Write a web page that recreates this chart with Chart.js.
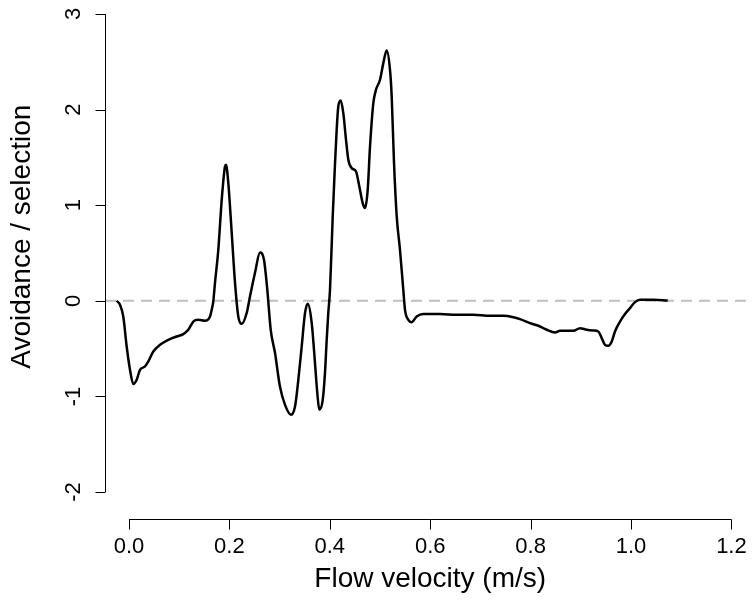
<!DOCTYPE html>
<html>
<head>
<meta charset="utf-8">
<script src="https://cdn.jsdelivr.net/npm/chart.js@4/dist/chart.umd.min.js"></script>
<style>
  html, body { margin: 0; padding: 0; background: #fff; }
  #wrap { width: 752px; height: 601px; position: relative; }
</style>
</head>
<body>
<div id="wrap"><canvas id="c"></canvas></div>
<script>
// ---- data ----
const velocity = [-0.0245,-0.0179,-0.0114,-0.0046,0.002,0.0086,0.0153,0.0219,0.0319,0.0384,0.0484,0.0618,0.0783,0.095,0.1082,0.1181,0.1281,0.138,0.1514,0.1614,0.1647,0.1679,0.1713,0.1779,0.1847,0.1912,0.1932,0.1978,0.2046,0.2112,0.2177,0.2245,0.2345,0.241,0.251,0.261,0.2689,0.2755,0.2823,0.2908,0.3008,0.3108,0.3227,0.3307,0.3373,0.344,0.3506,0.356,0.364,0.3705,0.3751,0.3791,0.3859,0.3904,0.3938,0.397,0.4004,0.4058,0.4104,0.4137,0.4169,0.4217,0.4269,0.4323,0.4369,0.4436,0.4522,0.4588,0.4655,0.4701,0.4755,0.4801,0.4867,0.492,0.5,0.5066,0.5133,0.5199,0.5233,0.5279,0.5333,0.5398,0.5464,0.5498,0.5564,0.5631,0.5731,0.5863,0.6195,0.6528,0.6859,0.7191,0.7456,0.7655,0.7789,0.7988,0.8187,0.8321,0.8486,0.8586,0.8719,0.8851,0.8984,0.9118,0.9249,0.9349,0.9416,0.9482,0.9548,0.9616,0.9681,0.9781,0.988,0.998,1.008,1.018,1.0444,1.0731];
const selection = [0,-0.042,-0.164,-0.478,-0.722,-0.871,-0.826,-0.722,-0.687,-0.635,-0.53,-0.46,-0.408,-0.373,-0.348,-0.303,-0.217,-0.199,-0.209,-0.164,-0.094,-0.007,0.188,0.533,1.056,1.405,1.423,1.234,0.711,0.188,-0.164,-0.241,-0.126,0.045,0.293,0.505,0.429,0.115,-0.303,-0.544,-0.9,-1.088,-1.192,-1.106,-0.826,-0.478,-0.129,-0.031,-0.233,-0.652,-0.965,-1.14,-1.036,-0.753,-0.408,-0.126,0.115,0.882,1.44,1.789,2.032,2.095,1.963,1.684,1.475,1.388,1.353,1.196,1.022,0.97,1.161,1.614,2.068,2.207,2.312,2.486,2.618,2.416,2.137,1.444,0.882,0.533,0.115,-0.094,-0.199,-0.223,-0.164,-0.139,-0.139,-0.146,-0.146,-0.157,-0.157,-0.171,-0.191,-0.233,-0.269,-0.303,-0.332,-0.314,-0.314,-0.314,-0.286,-0.303,-0.311,-0.321,-0.39,-0.46,-0.471,-0.426,-0.321,-0.217,-0.139,-0.076,-0.014,0.01,0.01,0.003];
const xTicks = [0, 0.2, 0.4, 0.6, 0.8, 1.0, 1.2];
const xTickLabels = ["0.0", "0.2", "0.4", "0.6", "0.8", "1.0", "1.2"];
const yTicks = [-2, -1, 0, 1, 2, 3];
const yTickLabels = ["-2", "-1", "0", "1", "2", "3"];
const referenceLevel = 0;
const xTitle = "Flow velocity (m/s)";
const yTitle = "Avoidance / selection";

// axis ranges (plot region)
const X_MIN = -0.0478, X_MAX = 1.241;
const Y_MIN = -2.282, Y_MAX = 3.146;

const FONT = '"Liberation Sans", Arial, Helvetica, sans-serif';

const curve = velocity.map((v, i) => ({ x: v, y: selection[i] }));
const zeroLine = [{ x: X_MIN, y: referenceLevel }, { x: X_MAX, y: referenceLevel }];

const rAxes = {
  id: 'rAxes',
  afterDraw(chart) {
    const ctx = chart.ctx;
    const xs = chart.scales.x, ys = chart.scales.y;
    const area = chart.chartArea;
    ctx.save();
    ctx.strokeStyle = '#000';
    ctx.lineWidth = 1;
    ctx.fillStyle = '#000';

    // y axis
    const yx = Math.round(area.left) + 0.5;
    const yTop = ys.getPixelForValue(yTicks[yTicks.length - 1]);
    const yBot = ys.getPixelForValue(yTicks[0]);
    ctx.beginPath();
    ctx.moveTo(yx, yTop); ctx.lineTo(yx, yBot);
    yTicks.forEach(t => {
      const p = Math.round(ys.getPixelForValue(t)) + 0.5;
      ctx.moveTo(yx - 10, p); ctx.lineTo(yx, p);
    });
    ctx.stroke();
    ctx.font = '22px ' + FONT;
    ctx.textAlign = 'center';
    ctx.textBaseline = 'middle';
    yTicks.forEach((t, i) => {
      const p = ys.getPixelForValue(t);
      ctx.save();
      ctx.translate(yx - 32, p);
      ctx.rotate(-Math.PI / 2);
      ctx.fillText(yTickLabels[i], 0, 0);
      ctx.restore();
    });
    // y title
    ctx.save();
    ctx.font = '28px ' + FONT;
    ctx.translate(yx - 83, ys.getPixelForValue(0.67));
    ctx.rotate(-Math.PI / 2);
    ctx.fillText(yTitle, 0, 0);
    ctx.restore();

    // x axis
    const xy = Math.round(area.bottom) + 0.5;
    const xl = xs.getPixelForValue(xTicks[0]);
    const xr = xs.getPixelForValue(xTicks[xTicks.length - 1]);
    ctx.beginPath();
    ctx.moveTo(xl, xy); ctx.lineTo(xr, xy);
    xTicks.forEach(t => {
      const p = Math.round(xs.getPixelForValue(t)) + 0.5;
      ctx.moveTo(p, xy); ctx.lineTo(p, xy + 10);
    });
    ctx.stroke();
    ctx.font = '22px ' + FONT;
    xTicks.forEach((t, i) => {
      ctx.fillText(xTickLabels[i], xs.getPixelForValue(t), xy + 27);
    });
    ctx.font = '28px ' + FONT;
    ctx.fillText(xTitle, xs.getPixelForValue(0.6), xy + 60);
    ctx.restore();
  }
};

new Chart(document.getElementById('c'), {
  type: 'line',
  data: {
    datasets: [
      {
        data: zeroLine,
        borderColor: '#bfbfbf',
        borderWidth: 2,
        borderDash: [11, 7],
        pointRadius: 0,
        tension: 0,
        order: 2
      },
      {
        data: curve,
        borderColor: '#000',
        borderWidth: 2.5,
        pointRadius: 0,
        cubicInterpolationMode: 'monotone',
        order: 1
      }
    ]
  },
  options: {
    responsive: true,
    maintainAspectRatio: false,
    animation: false,
    events: [],
    layout: { padding: { left: 105, right: 0, top: 0, bottom: 82 } },
    plugins: { legend: { display: false }, tooltip: { enabled: false }, title: { display: false } },
    scales: {
      x: { type: 'linear', min: X_MIN, max: X_MAX, display: false },
      y: { type: 'linear', min: Y_MIN, max: Y_MAX, display: false }
    }
  },
  plugins: [rAxes]
});
</script>
</body>
</html>
